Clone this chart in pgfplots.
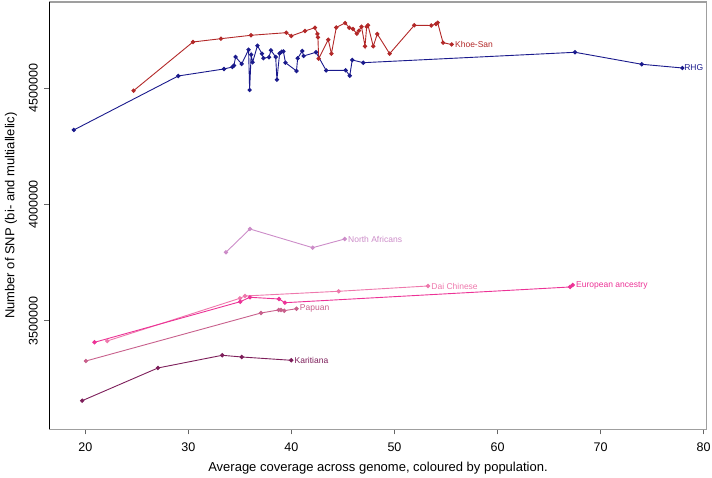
\documentclass[border=0pt]{standalone}
\usepackage{pgfplots}
\pgfplotsset{compat=1.18}
\usepackage{fontspec}
\setmainfont{Liberation Sans}
\definecolor{khoe}{RGB}{178,40,40}
\definecolor{rhg}{RGB}{26,26,140}
\definecolor{nafr}{RGB}{204,140,200}
\definecolor{dai}{RGB}{238,120,172}
\definecolor{euro}{RGB}{236,50,150}
\definecolor{papua}{RGB}{200,96,140}
\definecolor{kari}{RGB}{125,30,90}
\begin{document}
\begin{tikzpicture}
\path[use as bounding box] (-49.3pt,-48.7pt) rectangle (662.7pt,429.3pt);
\begin{axis}[
    scale only axis,
    width=657.4pt,
    height=427.3pt,
    xmin=16.5, xmax=80.3,
    ymin=3033700, ymax=4869800,
    xtick={20,30,...,80},
    ytick={3500000,4000000,4500000},
    scaled y ticks=false,
    /pgf/number format/.cd, fixed, set thousands separator={}, assume math mode=true,
    /pgfplots/.cd,
    xtick pos=lower, ytick pos=left,
    tick align=outside,
    major tick length=5pt,
    major tick style={gray!80!black, line width=0.8pt},
    axis line style={gray!75, line width=1.3pt},
    tick label style={font=\fontsize{12.5}{14}\selectfont},
    xticklabel shift=5pt,
    yticklabel style={rotate=90, anchor=south},
    yticklabel shift=3pt,
    xlabel={Average coverage across genome, coloured by population.},
    ylabel={Number of SNP (bi- and multiallelic)},
    label style={font=\fontsize{13}{15}\selectfont},
    xlabel style={at={(axis description cs:0.5,-0.0906)}, anchor=center},
    ylabel style={at={(axis description cs:-0.0583,0.5)}, anchor=center},
    every axis plot/.append style={line width=0.9pt, mark=*, mark size=1.7pt},
    after end axis/.code={\draw[black, line width=0.8pt] (rel axis cs:0,0) -- (rel axis cs:0,1);},
    clip=false,
]
% Khoe-San
\addplot[color=khoe] coordinates {
(24.68,4488700) (30.44,4697960) (33.16,4712140) (36.07,4726750) (39.50,4737920)
(39.98,4723740) (41.31,4745230) (42.28,4759410) (42.52,4732340) (42.57,4718160)
(42.64,4626200) (43.57,4707850) (43.88,4647690) (44.35,4760270) (45.21,4779600)
(45.61,4759410) (45.97,4753820) (46.34,4733630) (46.55,4746520) (46.80,4763710)
(47.14,4679490) (47.30,4763710) (47.43,4769720) (47.94,4679490) (48.33,4732340)
(49.53,4647690) (51.92,4769720) (53.57,4768860) (54.03,4775310) (54.19,4780890)
(54.71,4694950) (55.55,4687220)
} node[pos=1, anchor=west, xshift=2pt, inner sep=1pt, font=\fontsize{8.5}{10}\selectfont, text=khoe] {Khoe-San};
% RHG
\addplot[color=rhg] coordinates {
(18.88,4319830) (29.01,4551860) (33.45,4581940) (34.27,4590540) (34.42,4596980)
(34.58,4633510) (35.17,4603430) (35.84,4664880) (35.94,4491710) (36.09,4643390)
(36.23,4610730) (36.70,4682060) (37.14,4647690) (37.28,4628350) (37.82,4632220)
(38.01,4662300) (38.47,4633510) (38.59,4535970) (38.85,4648550) (39.05,4656280)
(39.22,4657140) (39.42,4609010) (40.49,4573350) (40.60,4627920) (41.05,4659290)
(41.18,4637800) (42.38,4653700) (43.37,4575500) (45.26,4576360) (45.66,4553150)
(45.90,4620620) (46.97,4609010) (67.52,4653700) (74.00,4602140) (77.94,4586240)
} node[pos=1, anchor=west, xshift=0.5pt, inner sep=1pt, font=\fontsize{8.5}{10}\selectfont, text=rhg] {RHG};
% North Africans
\addplot[color=nafr] coordinates {
(33.64,3794300) (35.97,3894420) (42.06,3814070) (45.17,3851450)
} node[pos=1, anchor=west, xshift=2pt, inner sep=1pt, font=\fontsize{8.5}{10}\selectfont, text=nafr] {North Africans};
% Dai Chinese
\addplot[color=dai] coordinates {
(22.12,3413160) (35.00,3596640) (35.49,3606520) (44.58,3626720) (53.25,3649490)
} node[pos=1, anchor=west, xshift=2pt, inner sep=1pt, font=\fontsize{8.5}{10}\selectfont, text=dai] {Dai Chinese};
% European ancestry
\addplot[color=euro] coordinates {
(20.89,3407570) (35.03,3582030) (35.97,3600940) (38.79,3593630) (39.37,3577730)
(67.04,3645200) (67.30,3653790)
} node[pos=1, anchor=west, xshift=2pt, inner sep=1pt, font=\fontsize{8.5}{10}\selectfont, text=euro] {European ancestry};
% Papuan
\addplot[color=papua] coordinates {
(20.05,3327220) (37.04,3533470) (38.76,3546370) (38.98,3546370) (39.30,3543360)
(40.49,3551950)
} node[pos=1, anchor=west, xshift=2pt, inner sep=1pt, font=\fontsize{8.5}{10}\selectfont, text=papua] {Papuan};
% Karitiana
\addplot[color=kari] coordinates {
(19.69,3156630) (27.04,3297140) (33.28,3351710) (35.17,3344410) (39.98,3330230)
} node[pos=1, anchor=west, xshift=2pt, inner sep=1pt, font=\fontsize{8.5}{10}\selectfont, text=kari] {Karitiana};
\end{axis}
\end{tikzpicture}
\end{document}
